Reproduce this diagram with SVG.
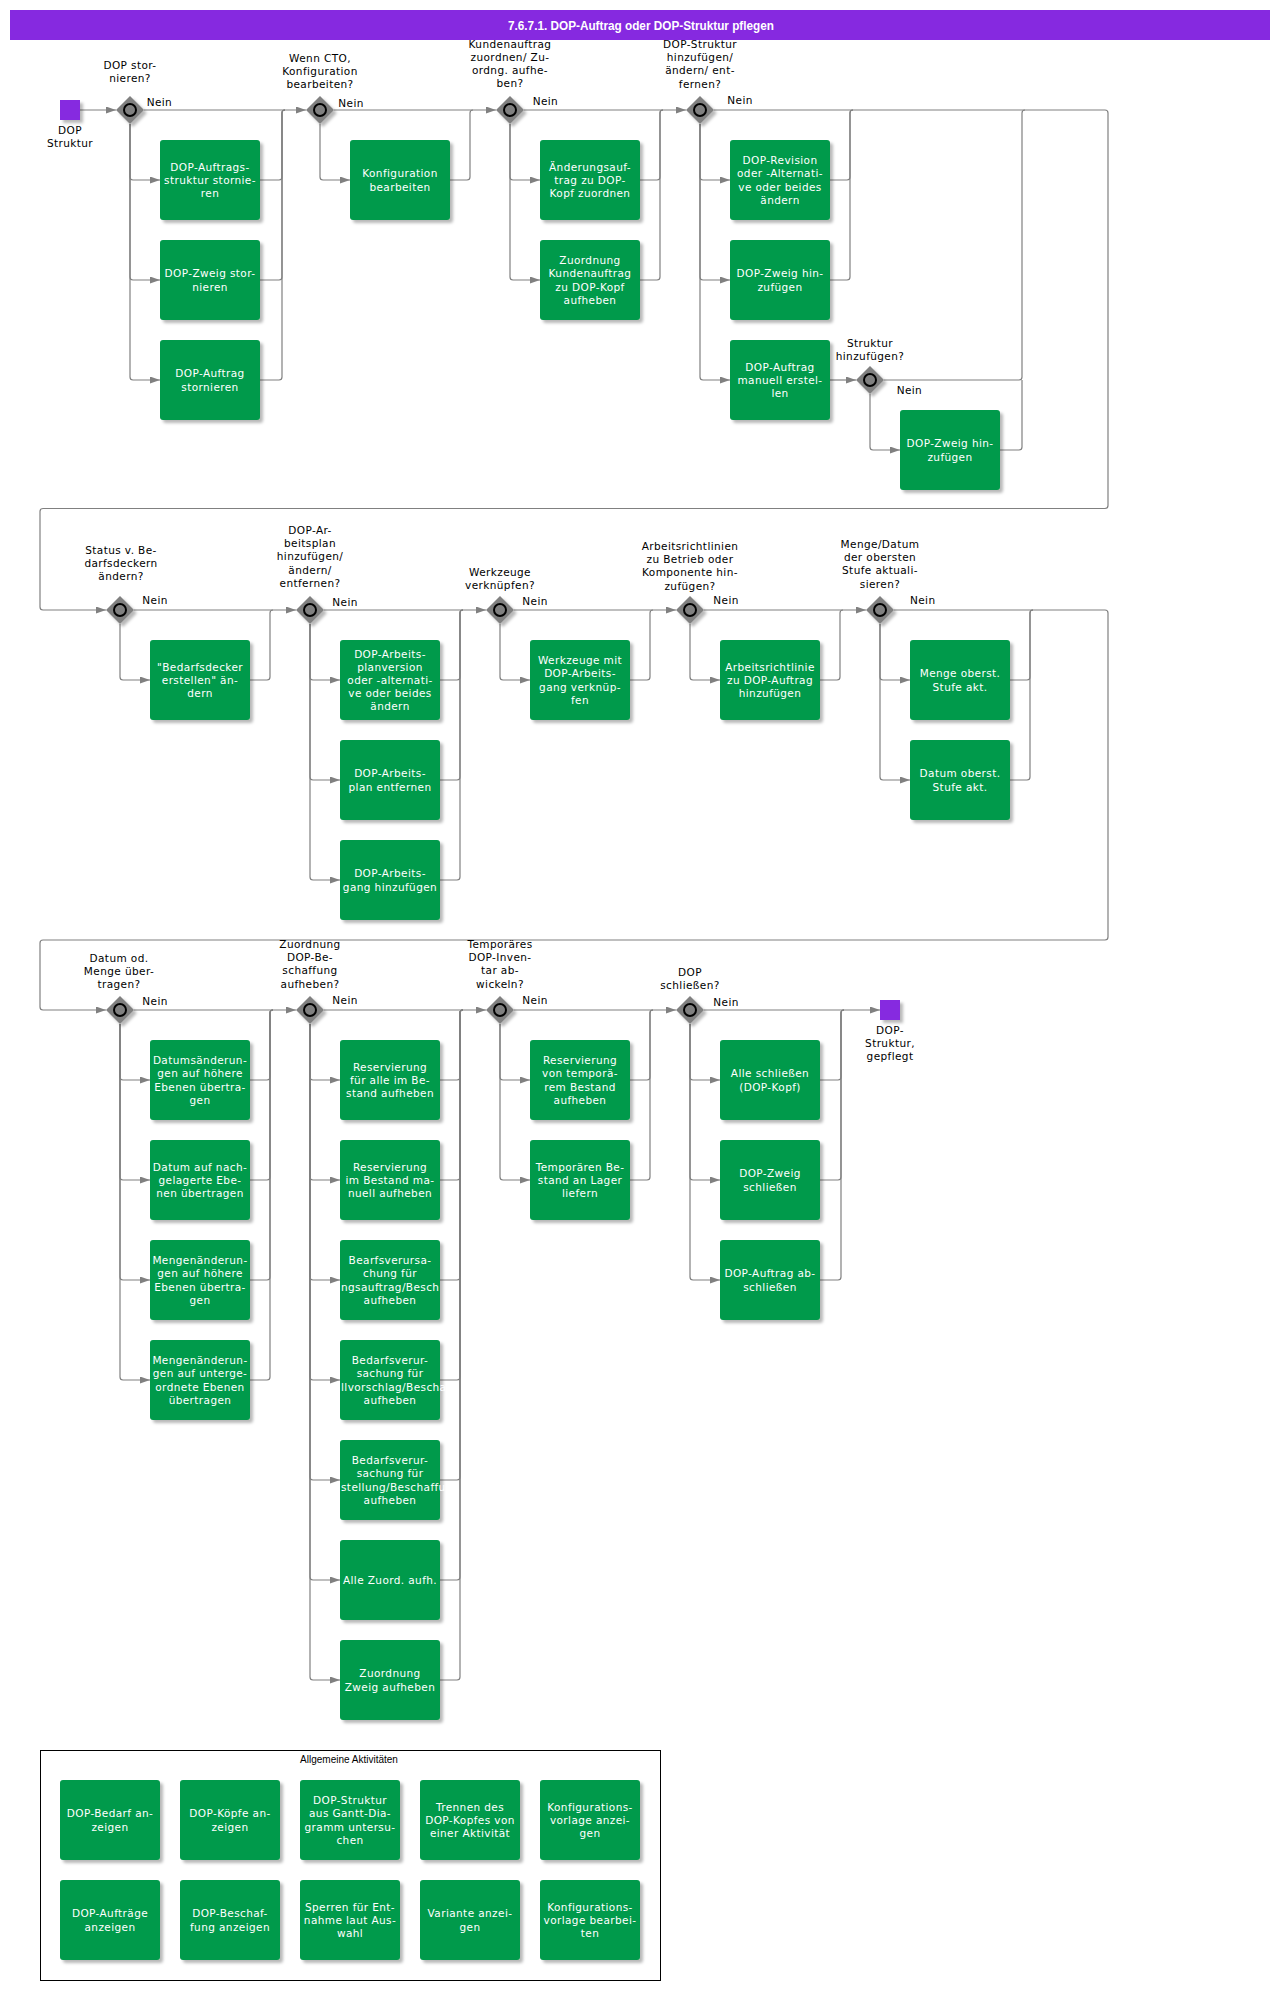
<svg xmlns="http://www.w3.org/2000/svg" width="1280" height="1990" viewBox="0 0 1280 1990">
<defs>
<filter id="sh" x="-20%" y="-20%" width="150%" height="150%"><feDropShadow dx="3" dy="3" stdDeviation="1.5" flood-color="#000" flood-opacity="0.28"/></filter>
<marker id="arr" markerUnits="userSpaceOnUse" markerWidth="11" markerHeight="8" refX="10" refY="3.5" orient="auto"><path d="M0,0 L10,3.5 L0,7 z" fill="#808080"/></marker>
<clipPath id="clipT"><rect x="340" y="1200" width="106" height="400"/></clipPath>
<style>
.task{fill:#009a4b;filter:url(#sh)}
.tt{fill:#fff;font-family:"DejaVu Sans",Verdana,sans-serif;font-size:10.5px;letter-spacing:0.4px;text-anchor:middle}
.tl{fill:#fff;font-family:"DejaVu Sans",Verdana,sans-serif;font-size:10.5px;letter-spacing:0.4px}
.lbl{fill:#000;font-family:"DejaVu Sans",Verdana,sans-serif;font-size:10.5px;letter-spacing:0.4px;text-anchor:middle}
.nein{fill:#000;font-family:"DejaVu Sans",Verdana,sans-serif;font-size:10.5px;letter-spacing:0.4px}
.gw{fill:#808080;filter:url(#sh)}
.gc{fill:#808080;stroke:#000;stroke-width:2}
.ev{fill:#8629e0;filter:url(#sh)}
#connectors path{fill:none;stroke:#808080;stroke-width:1.2}
#connectors path.a{marker-end:url(#arr)}
</style>
</defs>
<rect width="1280" height="1990" fill="#fff"/>

<g id="title">
<rect x="10" y="10" width="1260" height="30" fill="#8629e0"/>
<text x="641" y="29.5" fill="#fff" font-family="'Liberation Sans',Arial,sans-serif" font-weight="bold" font-size="13" text-anchor="middle" textLength="266" lengthAdjust="spacingAndGlyphs">7.6.7.1. DOP-Auftrag oder DOP-Struktur pflegen</text>
</g>

<g id="connectors">
<path class="a" d="M80,110 H116"/>
<path class="a" d="M144,110 H306"/>
<path class="a" d="M334,110 H496"/>
<path class="a" d="M524,110 H686"/>
<path class="a" d="M714,110 H1105 Q1108,110 1108,113 V505.5 Q1108,508.5 1105,508.5 H43 Q40,508.5 40,511.5 V607 Q40,610 43,610 H106"/>
<path class="a" d="M130,124 V177 Q130,180 133,180 H160"/>
<path class="a" d="M130,124 V277 Q130,280 133,280 H160"/>
<path class="a" d="M130,124 V377 Q130,380 133,380 H160"/>
<path d="M260,180 H279 Q282,180 282,177 V113 Q282,110 285,110"/>
<path d="M260,280 H279 Q282,280 282,277 V113 Q282,110 285,110"/>
<path d="M260,380 H279 Q282,380 282,377 V113 Q282,110 285,110"/>
<path class="a" d="M320,124 V177 Q320,180 323,180 H350"/>
<path d="M450,180 H467 Q470,180 470,177 V113 Q470,110 473,110"/>
<path class="a" d="M510,124 V177 Q510,180 513,180 H540"/>
<path class="a" d="M510,124 V277 Q510,280 513,280 H540"/>
<path d="M640,180 H657 Q660,180 660,177 V113 Q660,110 663,110"/>
<path d="M640,280 H657 Q660,280 660,277 V113 Q660,110 663,110"/>
<path class="a" d="M700,124 V177 Q700,180 703,180 H730"/>
<path class="a" d="M700,124 V277 Q700,280 703,280 H730"/>
<path class="a" d="M700,124 V377 Q700,380 703,380 H730"/>
<path d="M830,180 H847 Q850,180 850,177 V113 Q850,110 853,110"/>
<path d="M830,280 H847 Q850,280 850,277 V113 Q850,110 853,110"/>
<path class="a" d="M830,380 H856"/>
<path d="M884,380 H1019 Q1022,380 1022,377 V113 Q1022,110 1025,110"/>
<path class="a" d="M870,394 V447 Q870,450 873,450 H900"/>
<path d="M1000,450 H1019 Q1022,450 1022,447 V380"/>

<path class="a" d="M134,610 H296"/>
<path class="a" d="M324,610 H486"/>
<path class="a" d="M514,610 H676"/>
<path class="a" d="M704,610 H866"/>
<path class="a" d="M894,610 H1105 Q1108,610 1108,613 V937 Q1108,940 1105,940 H43 Q40,940 40,943 V1007 Q40,1010 43,1010 H106"/>
<path class="a" d="M120,624 V677 Q120,680 123,680 H150"/>
<path d="M250,680 H267 Q270,680 270,677 V613 Q270,610 273,610"/>
<path class="a" d="M310,624 V677 Q310,680 313,680 H340"/>
<path class="a" d="M310,624 V777 Q310,780 313,780 H340"/>
<path class="a" d="M310,624 V877 Q310,880 313,880 H340"/>
<path d="M440,680 H457 Q460,680 460,677 V613 Q460,610 463,610"/>
<path d="M440,780 H457 Q460,780 460,777 V613 Q460,610 463,610"/>
<path d="M440,880 H457 Q460,880 460,877 V613 Q460,610 463,610"/>
<path class="a" d="M500,624 V677 Q500,680 503,680 H530"/>
<path d="M630,680 H647 Q650,680 650,677 V613 Q650,610 653,610"/>
<path class="a" d="M690,624 V677 Q690,680 693,680 H720"/>
<path d="M820,680 H837 Q840,680 840,677 V613 Q840,610 843,610"/>
<path class="a" d="M880,624 V677 Q880,680 883,680 H910"/>
<path class="a" d="M880,624 V777 Q880,780 883,780 H910"/>
<path d="M1010,680 H1027 Q1030,680 1030,677 V613 Q1030,610 1033,610"/>
<path d="M1010,780 H1027 Q1030,780 1030,777 V613 Q1030,610 1033,610"/>

<path class="a" d="M134,1010 H296"/>
<path class="a" d="M324,1010 H486"/>
<path class="a" d="M514,1010 H676"/>
<path class="a" d="M704,1010 H880"/>
<path class="a" d="M120,1024 V1077 Q120,1080 123,1080 H150"/>
<path class="a" d="M120,1024 V1177 Q120,1180 123,1180 H150"/>
<path class="a" d="M120,1024 V1277 Q120,1280 123,1280 H150"/>
<path class="a" d="M120,1024 V1377 Q120,1380 123,1380 H150"/>
<path d="M250,1080 H267 Q270,1080 270,1077 V1013 Q270,1010 273,1010"/>
<path d="M250,1180 H267 Q270,1180 270,1177 V1013 Q270,1010 273,1010"/>
<path d="M250,1280 H267 Q270,1280 270,1277 V1013 Q270,1010 273,1010"/>
<path d="M250,1380 H267 Q270,1380 270,1377 V1013 Q270,1010 273,1010"/>
<path class="a" d="M310,1024 V1077 Q310,1080 313,1080 H340"/>
<path class="a" d="M310,1024 V1177 Q310,1180 313,1180 H340"/>
<path class="a" d="M310,1024 V1277 Q310,1280 313,1280 H340"/>
<path class="a" d="M310,1024 V1377 Q310,1380 313,1380 H340"/>
<path class="a" d="M310,1024 V1477 Q310,1480 313,1480 H340"/>
<path class="a" d="M310,1024 V1577 Q310,1580 313,1580 H340"/>
<path class="a" d="M310,1024 V1677 Q310,1680 313,1680 H340"/>
<path d="M440,1080 H457 Q460,1080 460,1077 V1013 Q460,1010 463,1010"/>
<path d="M440,1180 H457 Q460,1180 460,1177 V1013 Q460,1010 463,1010"/>
<path d="M440,1280 H457 Q460,1280 460,1277 V1013 Q460,1010 463,1010"/>
<path d="M440,1380 H457 Q460,1380 460,1377 V1013 Q460,1010 463,1010"/>
<path d="M440,1480 H457 Q460,1480 460,1477 V1013 Q460,1010 463,1010"/>
<path d="M440,1580 H457 Q460,1580 460,1577 V1013 Q460,1010 463,1010"/>
<path d="M440,1680 H457 Q460,1680 460,1677 V1013 Q460,1010 463,1010"/>
<path class="a" d="M500,1024 V1077 Q500,1080 503,1080 H530"/>
<path class="a" d="M500,1024 V1177 Q500,1180 503,1180 H530"/>
<path d="M630,1080 H647 Q650,1080 650,1077 V1013 Q650,1010 653,1010"/>
<path d="M630,1180 H647 Q650,1180 650,1177 V1013 Q650,1010 653,1010"/>
<path class="a" d="M690,1024 V1077 Q690,1080 693,1080 H720"/>
<path class="a" d="M690,1024 V1177 Q690,1180 693,1180 H720"/>
<path class="a" d="M690,1024 V1277 Q690,1280 693,1280 H720"/>
<path d="M820,1080 H838 Q841,1080 841,1077 V1013 Q841,1010 844,1010"/>
<path d="M820,1180 H838 Q841,1180 841,1177 V1013 Q841,1010 844,1010"/>
<path d="M820,1280 H838 Q841,1280 841,1277 V1013 Q841,1010 844,1010"/>
</g>

<g id="start"><rect class="ev" x="60" y="100" width="20" height="20"/>
<text class="lbl" x="70" y="134"><tspan x="70">DOP</tspan><tspan x="70" dy="13.2">Struktur</tspan></text></g>
<g id="end"><rect class="ev" x="880" y="1000" width="20" height="20"/>
<text class="lbl" x="890" y="1034"><tspan x="890">DOP-</tspan><tspan x="890" dy="13.2">Struktur,</tspan><tspan x="890" dy="13.2">gepflegt</tspan></text></g>

<g id="g1"><polygon class="gw" points="130,96 144,110 130,124 116,110"/><circle class="gc" cx="130" cy="110" r="6"/>
<text class="lbl" x="130" y="69"><tspan x="130">DOP stor-</tspan><tspan x="130" dy="13.3">nieren?</tspan></text><text class="nein" x="146.7" y="106">Nein</text></g>
<g id="g2"><polygon class="gw" points="320,96 334,110 320,124 306,110"/><circle class="gc" cx="320" cy="110" r="6"/>
<text class="lbl" x="320" y="62.3"><tspan x="320">Wenn CTO,</tspan><tspan x="320" dy="13">Konfiguration</tspan><tspan x="320" dy="13">bearbeiten?</tspan></text><text class="nein" x="338.3" y="107">Nein</text></g>
<g id="g3"><polygon class="gw" points="510,96 524,110 510,124 496,110"/><circle class="gc" cx="510" cy="110" r="6"/>
<text class="lbl" x="510" y="48"><tspan x="510">Kundenauftrag</tspan><tspan x="510" dy="13.1">zuordnen/ Zu-</tspan><tspan x="510" dy="13.1">ordng. aufhe-</tspan><tspan x="510" dy="13.1">ben?</tspan></text><text class="nein" x="532.7" y="105">Nein</text></g>
<g id="g4"><polygon class="gw" points="700,96 714,110 700,124 686,110"/><circle class="gc" cx="700" cy="110" r="6"/>
<text class="lbl" x="700" y="48"><tspan x="700">DOP-Struktur</tspan><tspan x="700" dy="13.2">hinzufügen/</tspan><tspan x="700" dy="13.2">ändern/ ent-</tspan><tspan x="700" dy="13.2">fernen?</tspan></text><text class="nein" x="727.3" y="104">Nein</text></g>
<g id="gs"><polygon class="gw" points="870,366 884,380 870,394 856,380"/><circle class="gc" cx="870" cy="380" r="6"/>
<text class="lbl" x="870" y="347.3"><tspan x="870">Struktur</tspan><tspan x="870" dy="12.7">hinzufügen?</tspan></text><text class="nein" x="896.7" y="394">Nein</text></g>
<g id="g5"><polygon class="gw" points="120,596 134,610 120,624 106,610"/><circle class="gc" cx="120" cy="610" r="6"/>
<text class="lbl" x="121" y="554"><tspan x="121">Status v. Be-</tspan><tspan x="121" dy="13">darfsdeckern</tspan><tspan x="121" dy="13">ändern?</tspan></text><text class="nein" x="142.3" y="604">Nein</text></g>
<g id="g6"><polygon class="gw" points="310,596 324,610 310,624 296,610"/><circle class="gc" cx="310" cy="610" r="6"/>
<text class="lbl" x="310" y="534"><tspan x="310">DOP-Ar-</tspan><tspan x="310" dy="13.2">beitsplan</tspan><tspan x="310" dy="13.2">hinzufügen/</tspan><tspan x="310" dy="13.2">ändern/</tspan><tspan x="310" dy="13.2">entfernen?</tspan></text><text class="nein" x="332.3" y="606">Nein</text></g>
<g id="g7"><polygon class="gw" points="500,596 514,610 500,624 486,610"/><circle class="gc" cx="500" cy="610" r="6"/>
<text class="lbl" x="500" y="576"><tspan x="500">Werkzeuge</tspan><tspan x="500" dy="13">verknüpfen?</tspan></text><text class="nein" x="522.3" y="605">Nein</text></g>
<g id="g8"><polygon class="gw" points="690,596 704,610 690,624 676,610"/><circle class="gc" cx="690" cy="610" r="6"/>
<text class="lbl" x="690" y="550"><tspan x="690">Arbeitsrichtlinien</tspan><tspan x="690" dy="13.2">zu Betrieb oder</tspan><tspan x="690" dy="13.2">Komponente hin-</tspan><tspan x="690" dy="13.2">zufügen?</tspan></text><text class="nein" x="713.3" y="604">Nein</text></g>
<g id="g9"><polygon class="gw" points="880,596 894,610 880,624 866,610"/><circle class="gc" cx="880" cy="610" r="6"/>
<text class="lbl" x="880" y="548"><tspan x="880">Menge/Datum</tspan><tspan x="880" dy="13.2">der obersten</tspan><tspan x="880" dy="13.2">Stufe aktuali-</tspan><tspan x="880" dy="13.2">sieren?</tspan></text><text class="nein" x="910" y="604">Nein</text></g>
<g id="g10"><polygon class="gw" points="120,996 134,1010 120,1024 106,1010"/><circle class="gc" cx="120" cy="1010" r="6"/>
<text class="lbl" x="119" y="962"><tspan x="119">Datum od.</tspan><tspan x="119" dy="13">Menge über-</tspan><tspan x="119" dy="13">tragen?</tspan></text><text class="nein" x="142.3" y="1005">Nein</text></g>
<g id="g11"><polygon class="gw" points="310,996 324,1010 310,1024 296,1010"/><circle class="gc" cx="310" cy="1010" r="6"/>
<text class="lbl" x="310" y="948"><tspan x="310">Zuordnung</tspan><tspan x="310" dy="13.2">DOP-Be-</tspan><tspan x="310" dy="13.2">schaffung</tspan><tspan x="310" dy="13.2">aufheben?</tspan></text><text class="nein" x="332.3" y="1004">Nein</text></g>
<g id="g12"><polygon class="gw" points="500,996 514,1010 500,1024 486,1010"/><circle class="gc" cx="500" cy="1010" r="6"/>
<text class="lbl" x="500" y="948"><tspan x="500">Temporäres</tspan><tspan x="500" dy="13.2">DOP-Inven-</tspan><tspan x="500" dy="13.2">tar ab-</tspan><tspan x="500" dy="13.2">wickeln?</tspan></text><text class="nein" x="522.3" y="1004">Nein</text></g>
<g id="g13"><polygon class="gw" points="690,996 704,1010 690,1024 676,1010"/><circle class="gc" cx="690" cy="1010" r="6"/>
<text class="lbl" x="690" y="976"><tspan x="690">DOP</tspan><tspan x="690" dy="13">schließen?</tspan></text><text class="nein" x="713.3" y="1006">Nein</text></g>

<g id="t1"><rect class="task" x="160" y="140" width="100" height="80" rx="3"/><text class="tt" x="210" y="170.8"><tspan x="210">DOP-Auftrags-</tspan><tspan x="210" dy="13.2">struktur stornie-</tspan><tspan x="210" dy="13.2">ren</tspan></text></g>
<g id="t2"><rect class="task" x="160" y="240" width="100" height="80" rx="3"/><text class="tt" x="210" y="277.4"><tspan x="210">DOP-Zweig stor-</tspan><tspan x="210" dy="13.2">nieren</tspan></text></g>
<g id="t3"><rect class="task" x="160" y="340" width="100" height="80" rx="3"/><text class="tt" x="210" y="377.4"><tspan x="210">DOP-Auftrag</tspan><tspan x="210" dy="13.2">stornieren</tspan></text></g>
<g id="t4"><rect class="task" x="350" y="140" width="100" height="80" rx="3"/><text class="tt" x="400" y="177.4"><tspan x="400">Konfiguration</tspan><tspan x="400" dy="13.2">bearbeiten</tspan></text></g>
<g id="t5"><rect class="task" x="540" y="140" width="100" height="80" rx="3"/><text class="tt" x="590" y="170.8"><tspan x="590">Änderungsauf-</tspan><tspan x="590" dy="13.2">trag zu DOP-</tspan><tspan x="590" dy="13.2">Kopf zuordnen</tspan></text></g>
<g id="t6"><rect class="task" x="540" y="240" width="100" height="80" rx="3"/><text class="tt" x="590" y="264.2"><tspan x="590">Zuordnung</tspan><tspan x="590" dy="13.2">Kundenauftrag</tspan><tspan x="590" dy="13.2">zu DOP-Kopf</tspan><tspan x="590" dy="13.2">aufheben</tspan></text></g>
<g id="t7"><rect class="task" x="730" y="140" width="100" height="80" rx="3"/><text class="tt" x="780" y="164.2"><tspan x="780">DOP-Revision</tspan><tspan x="780" dy="13.2">oder -Alternati-</tspan><tspan x="780" dy="13.2">ve oder beides</tspan><tspan x="780" dy="13.2">ändern</tspan></text></g>
<g id="t8"><rect class="task" x="730" y="240" width="100" height="80" rx="3"/><text class="tt" x="780" y="277.4"><tspan x="780">DOP-Zweig hin-</tspan><tspan x="780" dy="13.2">zufügen</tspan></text></g>
<g id="t9"><rect class="task" x="730" y="340" width="100" height="80" rx="3"/><text class="tt" x="780" y="370.8"><tspan x="780">DOP-Auftrag</tspan><tspan x="780" dy="13.2">manuell erstel-</tspan><tspan x="780" dy="13.2">len</tspan></text></g>
<g id="t10"><rect class="task" x="900" y="410" width="100" height="80" rx="3"/><text class="tt" x="950" y="447.4"><tspan x="950">DOP-Zweig hin-</tspan><tspan x="950" dy="13.2">zufügen</tspan></text></g>

<g id="t11"><rect class="task" x="150" y="640" width="100" height="80" rx="3"/><text class="tt" x="200" y="670.8"><tspan x="200">"Bedarfsdecker</tspan><tspan x="200" dy="13.2">erstellen" än-</tspan><tspan x="200" dy="13.2">dern</tspan></text></g>
<g id="t12"><rect class="task" x="340" y="640" width="100" height="80" rx="3"/><text class="tt" x="390" y="657.6"><tspan x="390">DOP-Arbeits-</tspan><tspan x="390" dy="13.2">planversion</tspan><tspan x="390" dy="13.2">oder -alternati-</tspan><tspan x="390" dy="13.2">ve oder beides</tspan><tspan x="390" dy="13.2">ändern</tspan></text></g>
<g id="t13"><rect class="task" x="340" y="740" width="100" height="80" rx="3"/><text class="tt" x="390" y="777.4"><tspan x="390">DOP-Arbeits-</tspan><tspan x="390" dy="13.2">plan entfernen</tspan></text></g>
<g id="t14"><rect class="task" x="340" y="840" width="100" height="80" rx="3"/><text class="tt" x="390" y="877.4"><tspan x="390">DOP-Arbeits-</tspan><tspan x="390" dy="13.2">gang hinzufügen</tspan></text></g>
<g id="t15"><rect class="task" x="530" y="640" width="100" height="80" rx="3"/><text class="tt" x="580" y="664.2"><tspan x="580">Werkzeuge mit</tspan><tspan x="580" dy="13.2">DOP-Arbeits-</tspan><tspan x="580" dy="13.2">gang verknüp-</tspan><tspan x="580" dy="13.2">fen</tspan></text></g>
<g id="t16"><rect class="task" x="720" y="640" width="100" height="80" rx="3"/><text class="tt" x="770" y="670.8"><tspan x="770">Arbeitsrichtlinie</tspan><tspan x="770" dy="13.2">zu DOP-Auftrag</tspan><tspan x="770" dy="13.2">hinzufügen</tspan></text></g>
<g id="t17"><rect class="task" x="910" y="640" width="100" height="80" rx="3"/><text class="tt" x="960" y="677.4"><tspan x="960">Menge oberst.</tspan><tspan x="960" dy="13.2">Stufe akt.</tspan></text></g>
<g id="t18"><rect class="task" x="910" y="740" width="100" height="80" rx="3"/><text class="tt" x="960" y="777.4"><tspan x="960">Datum oberst.</tspan><tspan x="960" dy="13.2">Stufe akt.</tspan></text></g>

<g id="t19"><rect class="task" x="150" y="1040" width="100" height="80" rx="3"/><text class="tt" x="200" y="1064.2"><tspan x="200">Datumsänderun-</tspan><tspan x="200" dy="13.2">gen auf höhere</tspan><tspan x="200" dy="13.2">Ebenen übertra-</tspan><tspan x="200" dy="13.2">gen</tspan></text></g>
<g id="t20"><rect class="task" x="150" y="1140" width="100" height="80" rx="3"/><text class="tt" x="200" y="1170.8"><tspan x="200">Datum auf nach-</tspan><tspan x="200" dy="13.2">gelagerte Ebe-</tspan><tspan x="200" dy="13.2">nen übertragen</tspan></text></g>
<g id="t21"><rect class="task" x="150" y="1240" width="100" height="80" rx="3"/><text class="tt" x="200" y="1264.2"><tspan x="200">Mengenänderun-</tspan><tspan x="200" dy="13.2">gen auf höhere</tspan><tspan x="200" dy="13.2">Ebenen übertra-</tspan><tspan x="200" dy="13.2">gen</tspan></text></g>
<g id="t22"><rect class="task" x="150" y="1340" width="100" height="80" rx="3"/><text class="tt" x="200" y="1364.2"><tspan x="200">Mengenänderun-</tspan><tspan x="200" dy="13.2">gen auf unterge-</tspan><tspan x="200" dy="13.2">ordnete Ebenen</tspan><tspan x="200" dy="13.2">übertragen</tspan></text></g>
<g id="t23"><rect class="task" x="340" y="1040" width="100" height="80" rx="3"/><text class="tt" x="390" y="1070.8"><tspan x="390">Reservierung</tspan><tspan x="390" dy="13.2">für alle im Be-</tspan><tspan x="390" dy="13.2">stand aufheben</tspan></text></g>
<g id="t24"><rect class="task" x="340" y="1140" width="100" height="80" rx="3"/><text class="tt" x="390" y="1170.8"><tspan x="390">Reservierung</tspan><tspan x="390" dy="13.2">im Bestand ma-</tspan><tspan x="390" dy="13.2">nuell aufheben</tspan></text></g>
<g id="t25"><rect class="task" x="340" y="1240" width="100" height="80" rx="3"/><text class="tt" x="390" y="1264.2"><tspan x="390">Bearfsverursa-</tspan><tspan x="390" dy="13.2">chung für</tspan><tspan x="390" dy="26.4">aufheben</tspan></text><text class="tl" x="341" y="1290.6" clip-path="url(#clipT)">ngsauftrag/Besch</text></g>
<g id="t26"><rect class="task" x="340" y="1340" width="100" height="80" rx="3"/><text class="tt" x="390" y="1364.2"><tspan x="390">Bedarfsverur-</tspan><tspan x="390" dy="13.2">sachung für</tspan><tspan x="390" dy="26.4">aufheben</tspan></text><text class="tl" x="341" y="1390.6" clip-path="url(#clipT)">llvorschlag/Bescha</text></g>
<g id="t27"><rect class="task" x="340" y="1440" width="100" height="80" rx="3"/><text class="tt" x="390" y="1464.2"><tspan x="390">Bedarfsverur-</tspan><tspan x="390" dy="13.2">sachung für</tspan><tspan x="390" dy="26.4">aufheben</tspan></text><text class="tl" x="341" y="1490.6" clip-path="url(#clipT)">stellung/Beschaffu</text></g>
<g id="t28"><rect class="task" x="340" y="1540" width="100" height="80" rx="3"/><text class="tt" x="390" y="1584">Alle Zuord. aufh.</text></g>
<g id="t29"><rect class="task" x="340" y="1640" width="100" height="80" rx="3"/><text class="tt" x="390" y="1677.4"><tspan x="390">Zuordnung</tspan><tspan x="390" dy="13.2">Zweig aufheben</tspan></text></g>
<g id="t30"><rect class="task" x="530" y="1040" width="100" height="80" rx="3"/><text class="tt" x="580" y="1064.2"><tspan x="580">Reservierung</tspan><tspan x="580" dy="13.2">von temporä-</tspan><tspan x="580" dy="13.2">rem Bestand</tspan><tspan x="580" dy="13.2">aufheben</tspan></text></g>
<g id="t31"><rect class="task" x="530" y="1140" width="100" height="80" rx="3"/><text class="tt" x="580" y="1170.8"><tspan x="580">Temporären Be-</tspan><tspan x="580" dy="13.2">stand an Lager</tspan><tspan x="580" dy="13.2">liefern</tspan></text></g>
<g id="t32"><rect class="task" x="720" y="1040" width="100" height="80" rx="3"/><text class="tt" x="770" y="1077.4"><tspan x="770">Alle schließen</tspan><tspan x="770" dy="13.2">(DOP-Kopf)</tspan></text></g>
<g id="t33"><rect class="task" x="720" y="1140" width="100" height="80" rx="3"/><text class="tt" x="770" y="1177.4"><tspan x="770">DOP-Zweig</tspan><tspan x="770" dy="13.2">schließen</tspan></text></g>
<g id="t34"><rect class="task" x="720" y="1240" width="100" height="80" rx="3"/><text class="tt" x="770" y="1277.4"><tspan x="770">DOP-Auftrag ab-</tspan><tspan x="770" dy="13.2">schließen</tspan></text></g>

<g id="legend">
<rect x="40.5" y="1750.5" width="620" height="230" fill="none" stroke="#000" stroke-width="1"/>
<text x="349" y="1763" fill="#000" font-family="'Liberation Sans',Arial,sans-serif" font-size="10" text-anchor="middle">Allgemeine Aktivitäten</text>
</g>
<g id="l1"><rect class="task" x="60" y="1780" width="100" height="80" rx="3"/><text class="tt" x="110" y="1817.4"><tspan x="110">DOP-Bedarf an-</tspan><tspan x="110" dy="13.2">zeigen</tspan></text></g>
<g id="l2"><rect class="task" x="180" y="1780" width="100" height="80" rx="3"/><text class="tt" x="230" y="1817.4"><tspan x="230">DOP-Köpfe an-</tspan><tspan x="230" dy="13.2">zeigen</tspan></text></g>
<g id="l3"><rect class="task" x="300" y="1780" width="100" height="80" rx="3"/><text class="tt" x="350" y="1804.2"><tspan x="350">DOP-Struktur</tspan><tspan x="350" dy="13.2">aus Gantt-Dia-</tspan><tspan x="350" dy="13.2">gramm untersu-</tspan><tspan x="350" dy="13.2">chen</tspan></text></g>
<g id="l4"><rect class="task" x="420" y="1780" width="100" height="80" rx="3"/><text class="tt" x="470" y="1810.8"><tspan x="470">Trennen des</tspan><tspan x="470" dy="13.2">DOP-Kopfes von</tspan><tspan x="470" dy="13.2">einer Aktivität</tspan></text></g>
<g id="l5"><rect class="task" x="540" y="1780" width="100" height="80" rx="3"/><text class="tt" x="590" y="1810.8"><tspan x="590">Konfigurations-</tspan><tspan x="590" dy="13.2">vorlage anzei-</tspan><tspan x="590" dy="13.2">gen</tspan></text></g>
<g id="l6"><rect class="task" x="60" y="1880" width="100" height="80" rx="3"/><text class="tt" x="110" y="1917.4"><tspan x="110">DOP-Aufträge</tspan><tspan x="110" dy="13.2">anzeigen</tspan></text></g>
<g id="l7"><rect class="task" x="180" y="1880" width="100" height="80" rx="3"/><text class="tt" x="230" y="1917.4"><tspan x="230">DOP-Beschaf-</tspan><tspan x="230" dy="13.2">fung anzeigen</tspan></text></g>
<g id="l8"><rect class="task" x="300" y="1880" width="100" height="80" rx="3"/><text class="tt" x="350" y="1910.8"><tspan x="350">Sperren für Ent-</tspan><tspan x="350" dy="13.2">nahme laut Aus-</tspan><tspan x="350" dy="13.2">wahl</tspan></text></g>
<g id="l9"><rect class="task" x="420" y="1880" width="100" height="80" rx="3"/><text class="tt" x="470" y="1917.4"><tspan x="470">Variante anzei-</tspan><tspan x="470" dy="13.2">gen</tspan></text></g>
<g id="l10"><rect class="task" x="540" y="1880" width="100" height="80" rx="3"/><text class="tt" x="590" y="1910.8"><tspan x="590">Konfigurations-</tspan><tspan x="590" dy="13.2">vorlage bearbei-</tspan><tspan x="590" dy="13.2">ten</tspan></text></g>
</svg>
